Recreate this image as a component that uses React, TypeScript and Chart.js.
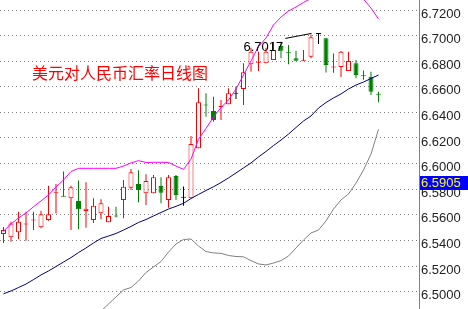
import React, { useEffect, useRef } from "react";
import { Chart, registerables } from "chart.js";

Chart.register(...registerables);

const openPrices = [
  6.5450, 6.5424, 6.5463, 6.5525, 6.5555, 6.5502, 6.5559, 6.5768, 6.5748, 6.5729,
  6.5708, 6.5630, 6.5559, 6.5612, 6.5541, 6.5593, 6.5716, 6.5812, 6.5841, 6.5768,
  6.5768, 6.5825, 6.5716, 6.5903, 6.5737, 6.5729, 6.6120, 6.6460, 6.6411, 6.6443,
  6.6463, 6.6549, 6.6583, 6.6776, 6.6787, 6.6784, 6.6809, 6.6919, 6.6869, 6.6823,
  6.6804, 6.6835, 6.7017, 6.6979, 6.6751, 6.6755, 6.6723, 6.6784, 6.6688, 6.6679,
  6.6543,
];
const highPrices = [
  6.5505, 6.5546, 6.5624, 6.5624, 6.5624, 6.5632, 6.5827, 6.5840, 6.5939, 6.5827,
  6.5867, 6.5854, 6.5729, 6.5721, 6.5663, 6.5663, 6.5872, 6.5958, 6.5948, 6.5916,
  6.5911, 6.5893, 6.5911, 6.5911, 6.5822, 6.6216, 6.6588, 6.6549, 6.6523, 6.6497,
  6.6588, 6.6601, 6.6784, 6.6905, 6.6874, 6.6905, 6.6952, 6.6952, 6.6927, 6.6882,
  6.6888, 6.7008, 6.7017, 6.6979, 6.6860, 6.6880, 6.6874, 6.6809, 6.6727, 6.6718,
  6.6562,
];
const lowPrices = [
  6.5380, 6.5390, 6.5411, 6.5398, 6.5481, 6.5494, 6.5553, 6.5611, 6.5742, 6.5481,
  6.5489, 6.5499, 6.5536, 6.5565, 6.5541, 6.5578, 6.5573, 6.5794, 6.5698, 6.5677,
  6.5768, 6.5690, 6.5656, 6.5716, 6.5671, 6.5729, 6.6120, 6.6366, 6.6327, 6.6341,
  6.6463, 6.6505, 6.6458, 6.6718, 6.6723, 6.6784, 6.6809, 6.6823, 6.6776, 6.6804,
  6.6802, 6.6823, 6.6935, 6.6712, 6.6710, 6.6676, 6.6723, 6.6666, 6.6655, 6.6536,
  6.6479,
];
const closePrices = [
  6.5481, 6.5533, 6.5546, 6.5533, 6.5562, 6.5604, 6.5604, 6.5777, 6.5742, 6.5815,
  6.5643, 6.5648, 6.5671, 6.5690, 6.5591, 6.5588, 6.5820, 6.5932, 6.5794, 6.5864,
  6.5893, 6.5773, 6.5893, 6.5755, 6.5737, 6.6153, 6.6479, 6.6455, 6.6341, 6.6451,
  6.6549, 6.6549, 6.6713, 6.6874, 6.6795, 6.6874, 6.6888, 6.6882, 6.6863, 6.6804,
  6.6810, 6.6987, 6.7017, 6.6770, 6.6757, 6.6874, 6.6802, 6.6692, 6.6683, 6.6562,
  6.6540,
];
const upperBand = [
  6.5473, 6.5528, 6.5575, 6.5614, 6.5663, 6.5708, 6.5755, 6.5817, 6.5872, 6.5938,
  6.5963, 6.5963, 6.5963, 6.5963, 6.5963, 6.5963, 6.5981, 6.6005, 6.6023, 6.6009,
  6.6010, 6.6010, 6.6009, 6.5981, 6.5955, 6.6035, 6.6190, 6.6275, 6.6364, 6.6438,
  6.6497, 6.6583, 6.6692, 6.6802, 6.6915, 6.6981, 6.7083, 6.7145, 6.7192, 6.7223,
  6.7259, 6.7290, 6.7350, 6.7380, 6.7385, 6.7380, 6.7370, 6.7340, 6.7285, 6.7215,
  6.7130,
];
const middleBand = [
  6.4983, 6.5005, 6.5032, 6.5059, 6.5094, 6.5130, 6.5161, 6.5196, 6.5231, 6.5266,
  6.5305, 6.5341, 6.5380, 6.5415, 6.5434, 6.5454, 6.5481, 6.5509, 6.5540, 6.5563,
  6.5591, 6.5618, 6.5645, 6.5666, 6.5690, 6.5727, 6.5759, 6.5790, 6.5819, 6.5852,
  6.5888, 6.5927, 6.5966, 6.6005, 6.6052, 6.6095, 6.6141, 6.6184, 6.6231, 6.6282,
  6.6333, 6.6372, 6.6434, 6.6477, 6.6513, 6.6544, 6.6583, 6.6614, 6.6637, 6.6665,
  6.6692,
];
const lowerBand = [
  6.4493, 6.4482, 6.4489, 6.4504, 6.4525, 6.4552, 6.4567, 6.4575, 6.4590, 6.4594,
  6.4647, 6.4719, 6.4797, 6.4848, 6.4903, 6.4958, 6.5013, 6.5032, 6.5083, 6.5149,
  6.5192, 6.5235, 6.5309, 6.5372, 6.5407, 6.5411, 6.5356, 6.5313, 6.5302, 6.5299,
  6.5282, 6.5274, 6.5272, 6.5242, 6.5216, 6.5208, 6.5223, 6.5242, 6.5278, 6.5341,
  6.5403, 6.5458, 6.5481, 6.5552, 6.5645, 6.5716, 6.5763, 6.5848, 6.5950, 6.6075,
  6.6268,
];
const yTickValues = [6.50, 6.52, 6.54, 6.56, 6.58, 6.60, 6.62, 6.64, 6.66, 6.68, 6.70, 6.72];
const chartTitle = "美元对人民币汇率日线图";
const highLabelText = "6.7017";
const highLabelValue = 6.7017;
const highLabelIndex = 42;
const highLabelTextIndex = 32;
const lastPriceValue = 6.5905;

const RED = "#ff0000";
const GREEN = "#008000";
const BLACK = "#000000";

const candleColor = (i: number) =>
  closePrices[i] > openPrices[i] ? RED : closePrices[i] < openPrices[i] ? GREEN : BLACK;

export default function App() {
  const canvasRef = useRef<HTMLCanvasElement | null>(null);

  useEffect(() => {
    document.body.style.margin = "0";
    const canvas = canvasRef.current;
    if (!canvas) return;

    const idx = openPrices.map((_, i) => i);
    const wickData = idx.map((i) => ({ x: i, y: [lowPrices[i], highPrices[i]] }));
    const bodyData = idx.map((i) => {
      let lo = Math.min(openPrices[i], closePrices[i]);
      let hi = Math.max(openPrices[i], closePrices[i]);
      if (hi - lo < 0.0008) {
        const mid = (hi + lo) / 2;
        lo = mid - 0.0004;
        hi = mid + 0.0004;
      }
      return { x: i, y: [lo, hi] };
    });
    const bodyFill = idx.map((i) => {
      const up = closePrices[i] > openPrices[i];
      const tall = Math.abs(closePrices[i] - openPrices[i]) >= 0.0008;
      return up && tall ? "#ffffff" : candleColor(i);
    });
    const colors = idx.map((i) => candleColor(i));

    const overlay = {
      id: "overlay",
      afterDraw(chart: any) {
        const { ctx, chartArea } = chart;
        const xs = chart.scales.x;
        const ys = chart.scales.y;
        ctx.save();
        ctx.font = '16px "Noto Sans CJK SC"';
        ctx.fillStyle = "#ff0000";
        ctx.textAlign = "left";
        ctx.textBaseline = "middle";
        ctx.fillText(chartTitle, 32, 73);

        const yH = ys.getPixelForValue(highLabelValue);
        const xT = xs.getPixelForValue(highLabelTextIndex);
        ctx.font = '13px "Liberation Sans"';
        ctx.fillStyle = "#000000";
        ctx.textBaseline = "alphabetic";
        ctx.fillText(highLabelText, xT, yH + 18);
        const tw = ctx.measureText(highLabelText).width;
        ctx.strokeStyle = "#000000";
        ctx.lineWidth = 1;
        ctx.beginPath();
        ctx.moveTo(xT + tw + 2, yH + 5);
        ctx.lineTo(xs.getPixelForValue(highLabelIndex) - 7, yH);
        ctx.stroke();

        const yP = Math.round(ys.getPixelForValue(lastPriceValue));
        ctx.fillStyle = "#0000ff";
        ctx.fillRect(chartArea.right + 1, yP, 49, 14);
        ctx.fillStyle = "#ffff00";
        ctx.font = '13px "Liberation Sans"';
        ctx.textBaseline = "middle";
        ctx.fillText(lastPriceValue.toFixed(4), chartArea.right + 2, yP + 7.5);
        ctx.restore();
      },
    };

    const lineDs = (data: number[], color: string) => ({
      type: "line" as const,
      data: data.map((v, i) => ({ x: i, y: v })),
      borderColor: color,
      borderWidth: 1,
      pointRadius: 0,
      fill: false,
      tension: 0,
      order: 0,
    });

    const chart = new Chart(canvas, {
      type: "bar",
      data: {
        datasets: [
          lineDs(upperBand, "#ff00ff"),
          lineDs(middleBand, "#000080"),
          lineDs(lowerBand, "#808080"),
          {
            type: "bar",
            data: bodyData as any,
            backgroundColor: bodyFill,
            borderColor: colors,
            borderWidth: 1,
            borderSkipped: false,
            barThickness: 5,
            maxBarThickness: 5,
            grouped: false,
            inflateAmount: 0,
            order: 1,
          } as any,
          {
            type: "bar",
            data: wickData as any,
            backgroundColor: colors,
            borderWidth: 0,
            borderSkipped: false,
            barThickness: 1,
            maxBarThickness: 1,
            grouped: false,
            inflateAmount: 0,
            order: 2,
          } as any,
        ],
      },
      options: {
        animation: false,
        responsive: false,
        maintainAspectRatio: false,
        layout: { padding: 0 },
        plugins: { legend: { display: false }, tooltip: { enabled: false }, title: { display: false } },
        scales: {
          x: {
            type: "linear",
            display: false,
            offset: false,
            grid: { offset: false },
            min: -3.5 / 7.5,
            max: (419 - 3.5) / 7.5,
          },
          y: {
            type: "linear",
            position: "right",
            min: 6.50 - (309 - 291.6) / 1280,
            max: 6.72 + 10 / 1280,
            grid: {
              color: "#808080",
              lineWidth: 1,
              drawTicks: false,
              drawOnChartArea: true,
            },
            border: { display: true, color: "#808080", width: 1, dash: [1, 3] },
            ticks: {
              padding: 2,
              labelOffset: 4,
              color: "#222222",
              font: { family: "Liberation Sans", size: 13 },
              callback: (v: any) => Number(v).toFixed(4),
            },
            afterBuildTicks: (scale: any) => {
              scale.ticks = yTickValues.map((v) => ({ value: v }));
            },
            afterFit: (scale: any) => {
              scale.width = 49;
              scale.paddingTop = 0;
              scale.paddingBottom = 0;
              scale.paddingLeft = 0;
              scale.paddingRight = 0;
            },
          } as any,
        },
      },
      plugins: [overlay],
    });

    return () => chart.destroy();
  }, []);

  return (
    <div style={{ width: 468, height: 309, background: "#ffffff" }}>
      <canvas ref={canvasRef} width={468} height={309} style={{ display: "block" }} />
    </div>
  );
}
